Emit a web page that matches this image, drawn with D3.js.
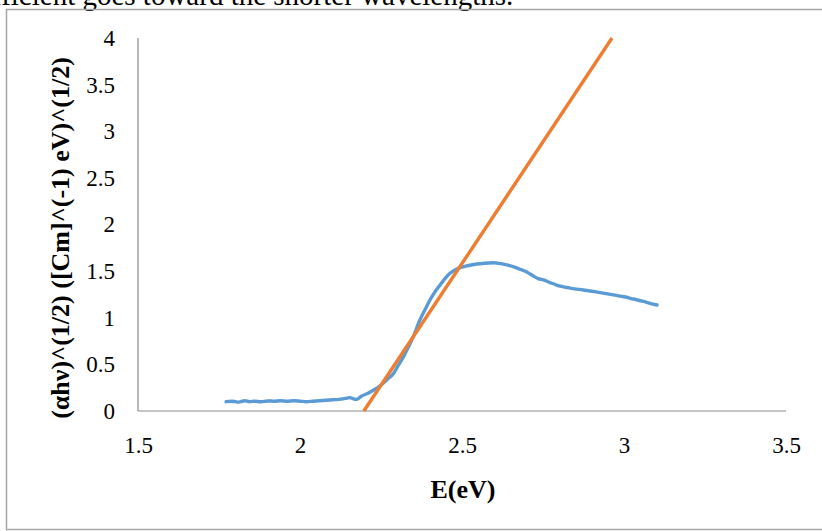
<!DOCTYPE html>
<html><head><meta charset="utf-8">
<script src="https://cdn.jsdelivr.net/npm/d3@7"></script>
<style>body{margin:0;background:#fff;} svg{display:block;}</style>
</head><body>
<script>
const xTicks = [1.5, 2, 2.5, 3, 3.5];
const yTicks = [0, 0.5, 1, 1.5, 2, 2.5, 3, 3.5, 4];
const curveE = [1.772,1.79,1.80,1.81,1.83,1.845,1.86,1.88,1.90,1.92,1.94,1.96,1.98,2.00,2.02,2.04,2.06,2.08,2.10,2.12,2.14,2.154,2.165,2.175,2.19,2.21,2.23,2.247,2.27,2.288,2.30,2.319,2.335,2.35,2.37,2.385,2.401,2.415,2.432,2.45,2.463,2.48,2.494,2.52,2.545,2.57,2.597,2.62,2.638,2.66,2.679,2.70,2.72,2.735,2.751,2.77,2.792,2.83,2.874,2.91,2.957,3.00,3.029,3.06,3.08,3.102];
const curveY = [0.10,0.105,0.10,0.095,0.11,0.10,0.105,0.10,0.108,0.105,0.11,0.105,0.11,0.105,0.10,0.105,0.11,0.115,0.12,0.125,0.135,0.143,0.13,0.125,0.16,0.19,0.23,0.27,0.34,0.40,0.47,0.58,0.69,0.80,0.976,1.08,1.19,1.27,1.35,1.43,1.477,1.515,1.537,1.56,1.576,1.585,1.59,1.58,1.566,1.545,1.52,1.49,1.448,1.42,1.405,1.38,1.351,1.32,1.298,1.28,1.251,1.225,1.201,1.175,1.155,1.137];
const fitE = [2.197, 2.963];
const fitY = [0, 4];

const W = 822, H = 531;
const svg = d3.select("body").append("svg").attr("width", W).attr("height", H);

svg.append("text").attr("x", -8).attr("y", 5)
  .attr("font-family", "Liberation Serif").attr("font-size", 29).attr("fill", "#000")
  .text("fficient goes toward the shorter wavelengths.");

svg.append("rect").attr("x", 6.5).attr("y", 9.5).attr("width", 830).attr("height", 520)
  .attr("fill", "none").attr("stroke", "#a6a6a6").attr("stroke-width", 1.5);

const x = d3.scaleLinear().domain([1.5, 3.5]).range([138, 786]);
const y = d3.scaleLinear().domain([0, 4]).range([411, 38]);

const g = svg.append("g");
g.append("line").attr("x1", x(1.5)).attr("x2", x(3.5)).attr("y1", y(0)).attr("y2", y(0))
  .attr("stroke", "#8c8c8c").attr("stroke-width", 1.2);
g.append("line").attr("x1", x(1.5)).attr("x2", x(1.5)).attr("y1", y(0)).attr("y2", y(4))
  .attr("stroke", "#8c8c8c").attr("stroke-width", 1.2);

const xAxis = d3.axisBottom(x).tickValues(xTicks).tickSize(0).tickFormat(d3.format("~g"));
const xa = svg.append("g").attr("transform", `translate(0,${y(0)})`).call(xAxis);
xa.select(".domain").remove();
xa.selectAll("text").attr("font-family", "Liberation Serif").attr("font-size", 23).attr("fill", "#000")
  .attr("dy", null).attr("y", 42);

const yAxis = d3.axisLeft(y).tickValues(yTicks).tickSize(0).tickPadding(23).tickFormat(d3.format("~g"));
const ya = svg.append("g").attr("transform", `translate(${x(1.5)},0)`).call(yAxis);
ya.select(".domain").remove();
ya.selectAll("text").attr("font-family", "Liberation Serif").attr("font-size", 23).attr("fill", "#000");

const pts = curveE.map((e, i) => [e, curveY[i]]);
svg.append("path").datum(pts)
  .attr("d", d3.line().x(d => x(d[0])).y(d => y(d[1])).curve(d3.curveMonotoneX))
  .attr("fill", "none").attr("stroke", "#5b9bd5").attr("stroke-width", 3.4).attr("stroke-linecap", "round");

const fit = fitE.map((e, i) => [e, fitY[i]]);
svg.append("path").datum(fit)
  .attr("d", d3.line().x(d => x(d[0])).y(d => y(d[1])))
  .attr("fill", "none").attr("stroke", "#ed7d31").attr("stroke-width", 3.4);

svg.append("text").attr("x", 463).attr("y", 498).attr("text-anchor", "middle")
  .attr("font-family", "Liberation Serif").attr("font-size", 26).attr("font-weight", "bold")
  .text("E(eV)");
svg.append("text").attr("transform", `translate(69,238) rotate(-90)`).attr("text-anchor", "middle")
  .attr("font-family", "Liberation Serif").attr("font-size", 26).attr("font-weight", "bold")
  .text("(αhν)^(1/2) ([Cm]^(-1)  eV)^(1/2)");
</script>
</body></html>
